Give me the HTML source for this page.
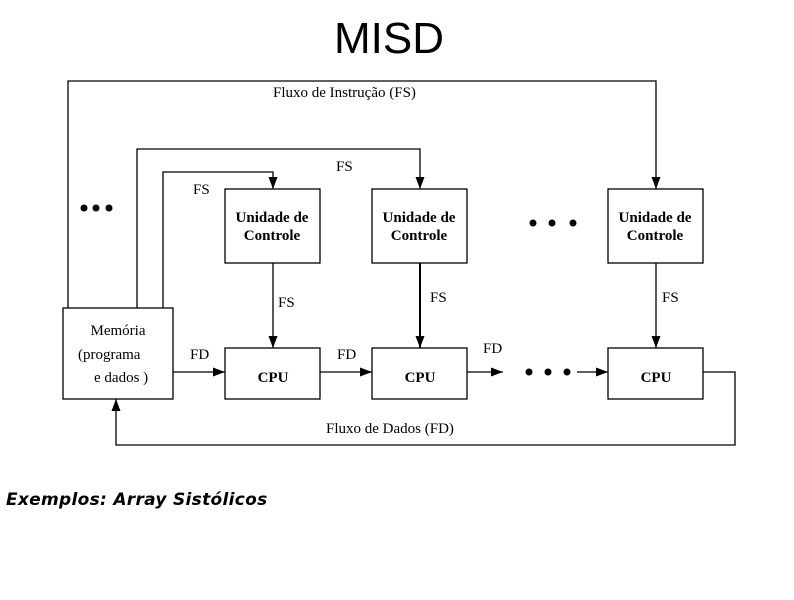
<!DOCTYPE html>
<html><head><meta charset="utf-8"><style>body{margin:0;background:#fff}</style></head><body>
<svg width="794" height="595" xmlns="http://www.w3.org/2000/svg" font-family="Liberation Serif, serif">
<defs><marker id="a" markerWidth="12" markerHeight="9" refX="12" refY="4.5" orient="auto" markerUnits="userSpaceOnUse"><path d="M0,0L12,4.5L0,9z" fill="#000"/></marker></defs>
<text x="389" y="53" font-family="Liberation Sans, sans-serif" font-size="44" text-anchor="middle">MISD</text>
<g fill="none" stroke="#000" stroke-width="1.3">
<rect x="63" y="308" width="110" height="91"/>
<rect x="225" y="189" width="95" height="74"/>
<rect x="372" y="189" width="95" height="74"/>
<rect x="608" y="189" width="95" height="74"/>
<rect x="225" y="348" width="95" height="51"/>
<rect x="372" y="348" width="95" height="51"/>
<rect x="608" y="348" width="95" height="51"/>
<polyline points="68,308 68,81 656,81 656,189" marker-end="url(#a)"/>
<polyline points="137,308 137,149 420,149 420,189" marker-end="url(#a)" />
<polyline points="163,308 163,172 273,172 273,189" marker-end="url(#a)"/>
<line x1="273" y1="263" x2="273" y2="348" marker-end="url(#a)"/>
<line x1="420" y1="263" x2="420" y2="348" stroke-width="2" marker-end="url(#a)"/>
<line x1="656" y1="263" x2="656" y2="348" marker-end="url(#a)"/>
<line x1="173" y1="372" x2="225" y2="372" marker-end="url(#a)"/>
<line x1="320" y1="372" x2="372" y2="372" marker-end="url(#a)"/>
<line x1="467" y1="372" x2="503" y2="372" marker-end="url(#a)"/>
<line x1="577" y1="372" x2="608" y2="372" marker-end="url(#a)"/>
<polyline points="703,372 735,372 735,445 116,445 116,399" marker-end="url(#a)"/>
</g>
<g fill="#000">
<circle cx="84" cy="208" r="3.5"/><circle cx="96" cy="208" r="3.5"/><circle cx="109" cy="208" r="3.5"/>
<circle cx="533" cy="223" r="3.5"/><circle cx="552" cy="223" r="3.5"/><circle cx="573" cy="223" r="3.5"/>
<circle cx="529" cy="372" r="3.5"/><circle cx="548" cy="372" r="3.5"/><circle cx="567" cy="372" r="3.5"/>
</g>
<g font-size="15">
<text x="273" y="97">Fluxo de Instrução (FS)</text>
<text x="336" y="171">FS</text>
<text x="193" y="194">FS</text>
<text x="278" y="307">FS</text>
<text x="430" y="302">FS</text>
<text x="662" y="302">FS</text>
<text x="190" y="359">FD</text>
<text x="337" y="359">FD</text>
<text x="483" y="353">FD</text>
<text x="326" y="433">Fluxo de Dados (FD)</text>
<text x="118" y="335" text-anchor="middle">Memória</text>
<text x="78" y="359">(programa</text>
<text x="94" y="382">e dados )</text>
</g>
<g font-size="15" font-weight="bold" text-anchor="middle">
<text x="272" y="222">Unidade de</text><text x="272" y="240">Controle</text>
<text x="419" y="222">Unidade de</text><text x="419" y="240">Controle</text>
<text x="655" y="222">Unidade de</text><text x="655" y="240">Controle</text>
<text x="273" y="382">CPU</text><text x="420" y="382">CPU</text><text x="656" y="382">CPU</text>
</g>
<text x="6" y="505" font-family="DejaVu Sans, sans-serif" font-size="17" font-weight="bold" font-style="italic" letter-spacing="0.3">Exemplos: Array Sistólicos</text>
</svg>
</body></html>
